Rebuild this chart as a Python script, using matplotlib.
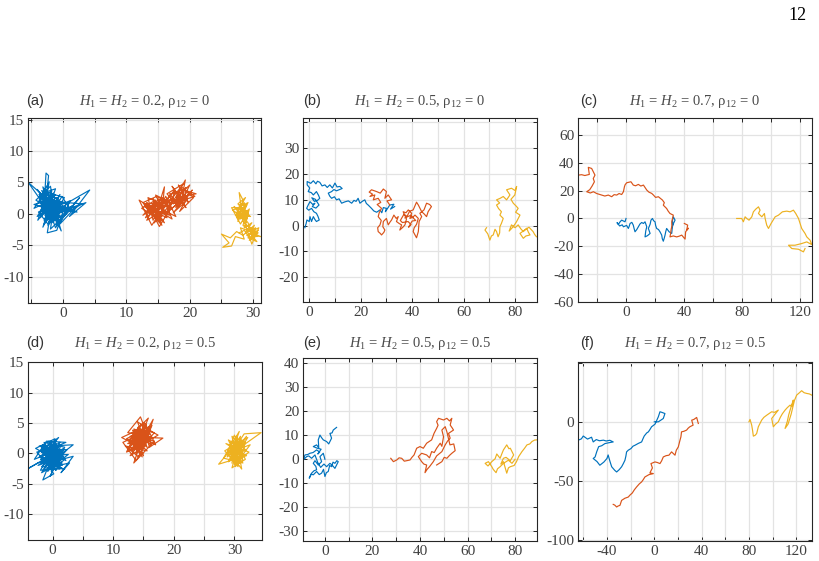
import matplotlib
matplotlib.use('Agg')
import matplotlib.pyplot as plt

plt.rcParams['font.family'] = 'Liberation Serif'
plt.rcParams['mathtext.fontset'] = 'custom'
plt.rcParams['mathtext.rm'] = 'Liberation Serif'
plt.rcParams['mathtext.it'] = 'Liberation Serif:italic'

# colours of the three walks
blue = '#0072BD'
orange = '#D95319'
yellow = '#EDB120'

# ---- (a) H = 0.2, rho = 0
a_blue = [(0,0),(-2.2,2.8),(-0.8,-1.2),(-3.6,1.8),(-1.4,0.6),(-4.1,3.9),(-2.1,1.2),(-3.2,-2.1),(-0.9,2.6),(-4.6,0.9),
          (-2.6,3.6),(-0.4,-0.6),(-3.1,0.2),(-2.2,5.1),(-3.6,2.6),(-1.1,1.1),(-5.5,5.0),(-3.0,1.4),(-2.7,6.5),(-2.3,6.1),
          (-2.6,3.1),(-4.0,-1.0),(-1.6,2.1),(0.6,0.1),(-2.0,-2.4),(-1.5,1.0),(1.1,2.1),(-0.5,-1.6),(2.0,1.1),(0.1,0.6),
          (3.6,1.8),(1.0,-0.4),(4.2,3.8),(0.4,1.6),(-1.0,-2.6),(-2.5,-3.0),(-2.0,0.1),(-3.8,3.1),(-1.2,4.0),(-3.0,-1.1),
          (-0.5,3.1),(-2.2,-0.8),(1.5,1.3),(-1.0,0.0),(-4.3,2.2),(-2.0,4.4),(-1.0,-1.8),(2.6,2.6),(0.0,-0.5),(-3.5,0.6),
          (-1.5,3.3),(-4.1,-0.4),(-0.2,1.9),(-2.8,2.1),(3.0,1.6),(-1.8,-1.2),(-3.2,4.3),(-0.8,0.3),(-4.6,1.5),(-2.0,2.3),
          (0.8,0.9),(-1.2,-2.2),(-3.0,3.0),(-0.3,-2.7),(-1.6,1.6),(-3.9,0.3),(-2.4,-1.6),(0.2,2.6),(-3.4,3.7),(-1.0,0.8),
          (2.2,0.3),(-0.6,1.3),(-2.9,-0.2),(-1.3,2.5),(-2.0,1.0),(-1.0,1.8),(-2.6,0.4),(-1.8,2.6),(-3.2,1.2),(-2.2,-0.4),
          (-3.0,2.4),(-1.4,0.0),(-2.4,1.8),(-3.6,0.2),(-2.8,3.0),(-1.6,1.2),(-0.6,2.2),(-2.0,-0.8),(-3.4,1.6),(-1.2,3.0),
          (-2.6,2.0),(-0.8,-0.4),(-2.2,0.6),(-3.8,2.2),(-1.6,-1.4),(-0.4,0.8),(-2.8,-0.8),(-1.8,3.6),(-3.4,2.8),(-1.0,1.4),
          (-2.4,-1.8),(0.2,1.2),(-1.6,0.4),(-3.0,0.8),(-2.0,3.2),(-0.6,-1.0),(-2.6,1.0),(-1.2,-0.6),(-3.2,3.4),(-0.8,2.4),
          (-2.2,-1.2),(0.6,1.6),(-1.4,2.0),(-3.6,-0.6),(-2.4,2.6),(-1.0,-0.2),(-2.8,1.6),(1.2,0.6),(-0.2,2.8),(-1.8,-0.2),
          (-3.0,-1.6),(-1.6,2.8),(-2.4,0.2)]
a_orange = [(15,0),(13.2,1.8),(15.8,-1.2),(12.4,0.9),(14.6,2.2),(13.0,-0.6),(16.2,1.5),(14.0,-1.8),(12.0,2.2),(14.8,0.4),
            (16.0,4.3),(15.6,0.2),(13.6,1.1),(15.2,-2.0),(17.0,1.0),(14.4,1.6),(12.6,-0.2),(16.6,2.4),(14.0,0.0),(17.6,3.6),
            (16.8,0.6),(18.8,2.2),(17.2,4.4),(19.4,1.0),(18.0,3.0),(19.3,5.4),(18.6,1.8),(20.0,4.6),(17.8,2.6),(21.0,3.2),
            (18.4,4.0),(19.6,2.2),(17.4,0.2),(20.4,3.8),(18.2,1.2),(16.4,3.2),(19.0,4.8),(17.0,2.2),(15.4,0.8),(17.8,-0.4),
            (16.2,2.8),(14.2,-1.0),(13.4,2.6),(15.8,1.4),(12.8,1.2),(16.4,-0.6),(14.6,3.0),(17.4,1.6),(19.8,3.0),(18.4,0.4),
            (20.6,2.6),(18.8,4.2),(16.8,1.2),(15.0,2.4),(13.8,0.4),(16.0,-1.4),(14.4,1.0),(15.6,-0.4),(13.6,0.2),(14.8,1.8),
            (13.2,-1.0),(16.0,0.6),(14.2,2.4),(15.4,-1.4),(13.0,1.6),(16.6,1.8),(14.6,-0.8),(15.8,2.6),(13.8,0.8),(16.8,-0.2),
            (15.0,1.2),(17.4,2.6),(16.2,0.0),(18.0,1.6),(16.8,3.2),(18.6,3.4),(17.8,1.0),(19.2,2.8),(18.2,4.6),(19.8,1.8),
            (18.8,3.6),(20.2,3.2),(17.6,2.0),(19.4,4.2),(18.0,2.4),(16.4,1.2),(17.2,-0.8),(15.2,0.4),(14.0,1.4),(15.6,-1.8),
            (13.4,0.6),(12.6,1.8),(14.8,2.8),(16.2,2.0),(17.6,3.8),(19.0,2.2),(20.8,2.8),(19.6,3.6),(18.4,2.0),(17.0,1.6),
            (15.8,0.2),(14.4,-1.4)]
a_yellow = [(28,0),(27.0,1.2),(28.6,-0.8),(26.8,0.6),(29.2,1.8),(27.6,-1.2),(28.4,2.2),(27.8,3.4),(28.2,0.4),(29.6,-0.4),
            (27.2,-0.2),(28.8,1.0),(26.6,1.0),(28.0,-1.6),(29.4,0.8),(28.6,-2.2),(29.8,-1.4),(28.8,-3.0),(30.4,-2.2),(29.4,-4.2),
            (30.8,-3.0),(29.0,-2.6),(31.2,-3.6),(29.8,-3.4),(30.6,-4.4),(29.2,-3.8),(30.2,-1.8),(28.4,-3.4),(27.4,-2.8),(26.4,-3.8),
            (25.0,-3.2),(26.2,-4.6),(25.2,-5.3),(26.6,-5.1),(27.2,-3.6),(28.6,-4.0),(28.0,-2.2),(29.6,-2.8),(30.9,-2.2),(29.8,-4.8),
            (28.8,-1.8),(29.2,0.2),(27.6,1.6),(28.8,2.6),(27.4,0.2),(29.0,-0.8),(28.2,0.8),(27.4,-0.6),(28.8,0.2),(27.8,1.4),
            (29.0,1.4),(28.0,-0.8),(29.4,-0.2),(27.6,0.8),(28.6,1.8),(28.4,-1.2),(29.2,-2.0),(30.0,-2.8),(29.4,-3.2),(30.6,-3.6),
            (29.6,-2.2),(30.2,-4.0),(29.0,-3.4),(30.8,-2.6),(30.0,-3.6),(29.2,-1.4),(28.2,-0.2),(28.8,1.4),(27.8,0.0),(29.2,0.6),
            (28.4,-1.8),(29.8,-3.0),(30.4,-2.4),(29.6,-4.0),(28.6,-2.6),(27.8,-3.0)]

# ---- (b) H = 0.5, rho = 0
b_blue = [(-1.7,-0.8),(-1.2,0.8),(-0.9,2.2),(0.0,1.6),(0.3,3.5),(0.9,1.6),(1.6,3.5),(2.2,2.4),(2.8,1.6),(3.9,2.2),
          (3.4,3.6),(2.8,4.8),(1.8,5.4),(0.9,6.7),(-0.2,6.0),(-1.0,6.7),(-0.4,8.0),(0.3,9.3),(1.4,8.2),(2.2,8.7),
          (1.2,7.4),(2.6,6.8),(3.8,8.0),(2.4,10.2),(1.0,10.8),(2.0,9.4),
          (3.2,9.8),(4.1,10.6),(3.6,11.8),(2.8,13.2),(1.6,11.9),(0.8,12.8),(-0.4,13.2),(0.2,14.6),(-0.8,15.8),(-0.8,17.1),
          (0.6,16.4),(1.6,17.4),(2.6,16.2),(3.2,17.2),(4.1,16.8),(5.0,15.4),(6.1,15.8),(7.0,14.8),(8.0,15.8),(9.0,14.6),
          (10.0,16.5),(10.8,15.0),(11.9,15.2),(12.8,14.4),(10.6,13.5),(9.6,14.0),(8.7,13.2),(7.4,12.6),(8.0,11.4),(8.7,10.6),
          (9.8,11.2),(10.6,10.0),(11.6,10.4),(12.6,8.7),(13.8,9.2),(15.2,9.6),(16.5,8.7),(17.4,9.8),(18.2,9.4),(19.0,10.6),
          (19.7,8.7),(20.6,9.4),(21.6,10.0),(22.2,8.6),(22.9,8.0),(24.2,6.7),(25.1,5.7),(26.2,5.2),(27.5,6.1),(28.2,5.0),
          (28.8,7.0),(30.0,6.7),(29.6,5.4),(31.3,8.0),(32.9,8.3),(31.6,6.4),(33.2,7.4)]
b_orange = [(31.3,8.0),(30.2,9.6),(32.0,10.0),(30.7,11.9),(29.4,10.6),(30.0,13.2),(28.8,14.2),(27.6,12.6),(26.2,13.2),(24.2,13.9),
            (23.3,13.0),(24.6,12.2),(23.6,11.3),(25.5,11.9),(24.9,10.0),(26.8,10.6),(27.8,9.0),(26.4,8.2),(28.1,6.7),(27.2,5.0),
            (26.8,3.5),(28.0,2.0),(27.5,0.3),(26.6,-0.8),(26.8,-2.3),(27.6,-3.0),(28.1,-3.6),(29.0,-2.6),(29.4,-1.7),(28.6,-0.4),
            (28.8,1.6),(30.0,2.8),(30.7,0.3),(31.4,1.4),(32.0,2.2),(32.9,4.1),(33.8,2.8),(34.6,3.5),(33.9,1.6),(35.0,0.8),
            (35.9,0.3),(35.2,-1.7),(36.4,-0.6),(37.2,0.3),(37.8,2.6),(36.5,5.4),(37.6,5.0),(38.5,6.1),(39.8,4.8),(39.1,2.8),
            (40.2,3.2),(41.1,4.1),(42.4,2.8),(41.7,0.5),(40.8,-0.8),(40.4,-2.3),(41.0,-3.4),(41.7,-4.7),(42.4,-2.3),(42.7,1.6),
            (43.7,3.5),(43.0,4.8),(44.6,6.1),(45.6,8.7),(46.8,8.2),(47.5,7.4),(46.2,5.4),(45.6,3.5),(44.6,4.6),(43.7,5.4),
            (42.4,8.0),(41.7,9.1),(40.4,6.1),(39.0,5.6),(38.0,3.6),(36.8,4.4),(35.4,2.0),(36.2,1.2),(38.4,1.6),(39.6,0.4),
            (38.6,-0.6),(40.0,1.8),(41.4,2.0),(39.4,4.0),(37.2,3.0)]
b_yellow = [(68.9,-0.8),(68.3,-1.7),(69.4,-3.2),(70.2,-5.6),(70.8,-4.0),(71.5,-3.6),(72.2,-1.4),(72.8,-2.3),(73.4,-4.3),(74.0,-2.8),
            (74.1,-0.4),(74.7,0.9),(75.4,2.8),(74.1,4.1),(74.7,5.4),(73.6,6.6),(72.8,8.0),(74.0,8.8),(72.8,10.0),(74.2,10.6),
            (75.4,11.3),(76.7,10.0),(78.0,11.9),(76.7,13.9),(78.6,14.5),(80.0,13.6),(80.6,15.2),(79.9,11.9),(78.4,10.2),(79.3,8.7),
            (80.4,7.6),(81.2,6.7),(80.2,5.2),(81.9,4.1),(80.6,1.6),(79.3,-0.4),(77.7,-2.1),(78.6,0.3),(80.0,-0.8),(81.2,0.3),
            (82.2,-1.2),(83.2,-2.3),(84.5,-1.0),(85.2,-2.6),(85.8,-3.6),(84.2,-4.0),(83.2,-4.9),(81.9,-3.0),(83.6,-1.8),(85.4,-0.6),
            (87.0,-2.3),(87.6,-3.4),(88.3,-4.3)]

# ---- (c) H = 0.7, rho = 0
c_blue = [(0,0),(-0.7,-2.4),(-3.0,-1.2),(-4.1,-2.4),(-5.3,-4.3),(-6.2,-3.0),(-4.4,-5.4),(-2.6,-4.6),(-1.8,-6.0),(0.4,-5.0),
          (1.6,-7.2),(2.2,-5.6),(2.8,-3.6),(4.0,-2.8),(5.0,-4.8),(5.6,-7.4),(6.2,-9.6),(7.4,-8.0),(8.5,-6.0),(9.6,-4.0),
          (10.8,-2.9),(12.0,-3.6),(13.1,-2.4),(14.3,-6.0),(13.6,-9.0),(13.1,-13.3),(14.8,-12.4),(16.6,-10.8),(15.4,-7.2),(16.6,-4.2),
          (17.2,-1.2),(18.2,0.0),(19.0,-1.6),(20.0,-2.4),(20.4,-5.0),(21.1,-7.2),(22.4,-8.0),(23.4,-9.6),(24.6,-12.0),(25.0,-14.6),
          (25.7,-16.4),(26.4,-14.0),(26.9,-12.0),(27.4,-9.4),(28.0,-7.2),(29.7,-9.6),(31.5,-10.8),(31.8,-7.6),(32.2,-4.8),(32.0,-1.6),
          (32.6,1.2),(33.8,-1.2),(32.8,-3.4),(31.4,-6.8)]
c_orange = [(40.2,-3.6),(42.5,-4.8),(41.8,-8.4),(43.0,-7.0),(41.1,-9.6),(40.7,-14.9),(38.4,-12.0),(36.6,-12.8),(34.9,-13.3),(32.6,-12.6),
            (30.3,-13.3),(30.8,-10.6),(31.0,-8.4),(31.6,-5.6),(31.5,-2.4),(32.6,2.4),(30.3,3.6),(29.0,5.4),(28.0,7.2),(25.7,9.6),
            (26.4,11.4),(25.1,13.3),(22.3,15.7),(20.4,15.2),(18.9,16.9),(17.7,18.1),(15.8,19.0),(14.3,20.5),(12.0,24.1),(10.2,23.4),
            (8.5,24.6),(6.6,23.6),(5.0,24.1),(3.4,26.5),(0.5,25.8),(-0.6,24.4),(-1.1,22.9),(-1.8,19.3),(-3.0,17.3),(-4.8,18.0),
            (-6.4,16.9),(-8.2,17.2),(-9.9,15.7),(-12.2,16.9),(-14.6,16.2),(-16.8,16.9),(-20.2,18.0),(-22.5,19.3),(-24.6,18.4),(-27.1,19.3),
            (-25.0,20.8),(-23.4,23.4),(-21.8,26.5),(-22.6,28.8),(-21.4,31.3),(-23.7,36.1),(-26.0,36.9),(-25.3,31.8),(-28.4,31.0),(-30.6,31.6),
            (-32.9,31.3)]
c_yellow = [(76.3,0.0),(79.8,0.0),(80.9,-2.4),(82.1,1.2),(83.2,0.0),(84.8,-1.2),(86.7,1.2),(87.8,4.8),(89.4,6.7),(91.3,8.4),
            (92.4,6.0),(91.3,3.6),(93.6,1.2),(95.4,3.6),(95.9,0.0),(97.0,-4.8),(98.2,-7.2),(100.0,-3.6),(102.8,1.2),(105.1,2.4),
            (107.8,4.8),(110.8,5.3),(113.1,4.8),(115.4,6.0),(117.0,3.6),(118.9,0.0),(120.0,-3.6),(121.1,-7.2),(123.4,-10.8),(124.6,-13.3),
            (126.9,-15.7),(128.0,-18.8),(124.6,-16.9),(121.1,-18.1),(116.5,-19.3),(112.0,-19.3),(114.3,-21.7),(118.9,-22.2),(122.3,-24.1),(123.4,-21.7)]

# ---- (d) H = 0.2, rho = 0.5
d_blue = [(0,0),(-1.6,1.4),(0.8,-2.2),(-2.2,-0.6),(1.2,1.8),(-0.8,-3.0),(2.4,0.6),(-1.2,0.4),(1.0,-1.2),(-2.8,0.8),
          (0.4,2.4),(-0.6,-1.8),(2.0,-2.6),(-1.8,-2.2),(1.6,0.2),(-0.4,1.2),(3.4,1.4),(0.6,-0.8),(-2.4,-1.6),(-4.0,-2.5),
          (-1.4,-1.0),(0.2,-3.4),(-1.6,-4.4),(-0.8,-2.4),(2.8,-1.6),(1.4,-3.2),(3.4,-0.5),(0.0,-1.4),(-2.0,0.4),(1.0,2.6),
          (-0.6,0.6),(2.2,1.8),(-1.0,2.0),(-3.0,-1.0),(0.4,0.4),(-1.8,-3.2),(1.8,-1.2),(-0.2,-2.6),(-2.6,0.2),(0.9,1.0),
          (-1.2,-0.4),(2.6,-0.2),(0.2,-2.0),(-1.4,1.8),(1.4,-2.4),(-2.0,-2.8),(0.6,1.6),(-0.8,-0.8),(1.8,0.8),(-0.4,-3.8),
          (1.2,-0.2),(-2.2,1.2),(0.0,0.8),(0.4,-0.6),(-1.0,0.6),(0.8,0.8),(-0.6,-1.2),(1.4,0.4),(-1.6,-0.2),(0.2,1.4),
          (-0.4,-2.2),(1.6,-1.6),(-1.2,-1.6),(0.6,-2.8),(-2.0,-1.0),(1.0,0.0),(-0.2,0.2),(-1.8,1.0),(0.8,-1.8),(2.0,1.0),
          (-0.8,1.6),(1.2,-2.6),(-1.4,-2.6),(0.0,-0.4),(-2.4,-2.0),(1.8,-0.6),(-0.6,2.0),(0.4,-1.4),(-1.2,0.2),(2.2,-1.2),
          (0.2,1.8),(-1.6,-1.6),(1.4,1.4),(-0.2,-3.0),(0.8,0.2),(-2.2,0.4),(1.0,-1.0),(-1.0,-0.8),(0.6,2.2),(-0.4,-0.2),
          (1.6,-2.0),(-1.8,-0.6),(0.2,0.6)]
d_orange = [(13.0,0.6),(14.6,3.2),(11.6,1.8),(13.8,-1.2),(15.4,1.6),(12.2,0.2),(14.2,4.4),(13.2,2.0),(16.2,3.8),(12.8,-0.4),
            (14.8,0.8),(11.4,2.6),(13.6,3.6),(15.8,5.8),(14.4,2.4),(16.8,2.0),(13.4,-1.6),(15.0,3.0),(12.4,3.4),(14.5,6.0),
            (15.2,4.2),(17.4,3.0),(14.0,1.0),(16.6,5.6),(15.6,2.6),(18.2,2.5),(16.0,1.0),(14.8,4.8),(13.0,2.8),(15.6,0.4),
            (12.0,1.2),(14.2,-0.6),(16.4,4.6),(13.6,1.4),(15.2,5.0),(17.0,1.4),(14.0,3.0),(12.6,2.2),(15.0,-0.4),(13.4,4.0),
            (16.0,3.2),(14.6,1.8),(13.6,2.2),(14.8,1.0),(12.8,2.8),(15.4,3.6),(13.2,0.4),(14.4,4.0),(15.8,1.8),(12.4,1.6),
            (14.0,2.6),(16.0,4.4),(13.4,3.2),(15.0,1.6),(12.6,0.6),(14.6,4.8),(15.6,3.0),(13.8,0.0),(14.2,3.4),(16.4,2.6),
            (13.0,1.4),(15.2,2.2),(14.0,5.2),(15.8,4.0),(12.8,2.0),(14.8,-0.6),(13.6,1.8),(15.4,4.8),(16.2,1.4),(13.2,3.8),
            (14.4,1.4),(12.2,2.4),(15.0,3.8),(16.8,3.4),(14.2,0.4),(13.4,2.6),(15.6,1.0),(14.6,3.6)]
d_yellow = [(30,0),(31.2,2.2),(29.0,-1.4),(31.8,0.6),(29.6,2.8),(30.6,-2.2),(28.4,0.4),(32.2,2.6),(30.2,-0.6),(29.2,1.4),
            (31.4,-1.6),(28.2,-0.8),(30.8,3.6),(29.8,0.8),(32.0,-0.4),(27.4,-1.8),(30.4,1.8),(31.2,-2.6),(29.4,-0.2),(31.6,3.2),
            (34.4,3.4),(31.0,1.0),(29.0,2.2),(30.6,-1.2),(32.6,1.4),(28.8,0.0),(30.0,3.0),(31.8,-1.0),(29.6,-2.4),(30.4,0.4),
            (28.6,1.6),(32.4,0.2),(30.0,-1.8),(31.0,2.8),(29.4,0.6),(30.8,-0.2),(30.2,1.2),(29.4,-0.8),(31.0,0.2),(29.8,2.0),
            (30.8,-1.6),(29.2,0.4),(31.4,1.4),(30.0,-1.2),(29.6,1.2),(31.2,-0.6),(30.4,2.4),(28.8,-0.6),(31.6,2.0),(30.0,0.2),
            (29.4,1.8),(30.6,-2.0),(31.8,1.8),(29.8,-0.4),(30.6,1.6),(29.0,0.8),(31.2,0.4),(30.2,-2.2),(29.6,0.0),(32.0,2.8),
            (30.8,1.0),(29.2,-1.2),(30.4,2.8),(31.4,-1.2),(30.0,1.4),(29.6,-1.6)]

# ---- (e) H = 0.5, rho = 0.5
e_blue = [(0,0),(-0.7,2.5),(-2.1,1.1),(-1.4,-1.0),(-2.8,-2.4),(-4.2,-0.6),(-4.9,-1.7),(-3.8,-3.0),(-3.5,-4.4),(-4.6,-4.8),
          (-5.6,-5.8),(-6.6,-7.9),(-5.8,-6.2),(-4.9,-6.5),(-3.5,-5.1),(-2.4,-6.4),(-1.4,-5.8),(-0.6,-4.2),(0.0,-7.2),(0.6,-5.6),
          (1.4,-5.1),(2.0,-2.6),(2.8,-3.1),(3.4,-1.2),(4.2,-1.7),(5.0,-0.6),(5.6,-1.0),(4.2,-3.8),(3.0,-2.4),(2.1,-1.7),
          (0.7,-3.1),(-0.4,-2.0),(-1.8,-3.4),(-3.0,-1.4),(-4.2,1.8),(-5.6,0.4),(-6.8,1.4),(-7.7,1.1),(-9.1,-0.3),(-8.4,1.8),
          (-7.2,2.0),(-6.3,2.5),(-5.0,2.8),(-3.5,3.9),(-2.2,3.0),(-3.0,2.2),(-1.6,4.2),(-3.2,4.6),
          (-4.9,5.3),(-3.5,6.0),(-2.6,4.8),(-2.8,8.1),(-2.1,10.1),(-1.4,9.0),
          (-0.7,8.1),(0.7,7.4),(1.6,6.4),(2.8,8.8),(2.1,10.8),(3.0,11.0),(3.5,12.2),(4.9,13.3)]
e_orange = [(27.7,0.4),(28.8,-1.0),(30.2,-0.3),(31.2,0.6),(32.3,0.4),(33.4,-0.8),(34.4,-0.6),(35.8,-0.3),(36.6,0.8),(37.5,1.8),
            (38.6,4.6),(40.0,5.3),(41.4,4.6),(42.8,6.7),(44.9,8.1),(45.9,10.8),(47.0,12.9),(47.6,14.2),(47.0,15.7),(47.8,17.1),
            (49.9,16.4),(51.3,17.1),(52.4,16.0),(53.4,17.1),(52.7,14.3),(53.6,13.0),(54.1,12.2),(52.0,10.8),(52.7,8.8),(51.6,7.6),
            (50.6,6.0),(49.2,3.2),(47.0,1.4),(45.6,-1.0),(44.0,-3.1),(43.0,-4.2),(42.1,-5.6),(42.8,-2.4),(41.6,-2.0),(40.7,-1.0),
            (39.3,1.1),(40.7,2.5),(42.8,1.8),(44.0,0.6),(44.9,3.2),(46.0,2.8),(47.0,4.6),(48.5,6.7),(49.2,5.4),(49.9,9.4),
            (49.2,12.2),(50.6,13.6),(51.3,11.5),(52.6,6.0),(54.2,6.4),(54.8,3.6),(53.4,2.5),(52.4,1.6),(51.3,0.4),(50.2,0.8),
            (49.2,-1.0),(47.0,-2.4)]
e_yellow = [(80.0,0.0),(78.7,-1.7),(77.2,-0.4),(75.1,-1.7),(73.7,-3.1),(72.6,-4.0),(72.0,-5.6),(70.8,-4.2),(70.2,-3.1),(68.8,-1.0),
            (67.4,-1.7),(68.6,-2.8),(70.2,-1.0),(71.6,0.2),(72.3,2.2),(73.7,0.4),(74.4,2.2),(75.1,3.9),(76.5,6.0),(77.4,4.4),
            (78.0,4.6),(79.4,1.8),(78.0,-0.6),(76.2,0.8),(75.1,0.4),(74.0,-2.0),(75.1,-1.0),(76.5,-5.8),(77.2,-3.6),(78.0,-3.1),
            (79.6,-2.6),(80.6,-1.0),(81.5,1.1),(82.9,3.2),(84.0,4.6),(85.0,6.0),(86.2,6.4),(87.1,7.4),(88.2,8.0),(89.2,8.1)]

# ---- (f) H = 0.7, rho = 0.5
f_blue = [(0,0),(3.4,0.0),(7.6,2.8),(9.0,7.0),(6.4,8.0),(4.8,8.5),(3.4,4.2),(0.6,-2.0),(-2.3,-4.2),(-3.6,-6.4),
          (-5.0,-8.5),(-6.4,-9.4),(-8.5,-12.0),(-9.6,-14.4),(-10.7,-17.0),(-13.4,-18.2),(-16.3,-19.8),(-18.0,-20.6),(-19.7,-22.6),(-22.0,-24.0),
          (-23.4,-25.4),(-24.0,-29.0),(-24.8,-32.5),(-26.2,-35.4),(-27.6,-38.0),(-29.6,-40.4),(-31.8,-42.4),(-33.4,-41.0),(-36.0,-38.0),(-37.4,-33.6),
          (-39.0,-28.0),(-40.0,-31.0),(-42.6,-34.0),(-46.0,-36.7),(-48.4,-33.6),(-51.6,-31.0),(-50.0,-29.7),(-48.6,-25.2),(-47.0,-21.0),(-44.4,-20.2),
          (-41.7,-18.4),(-38.0,-17.6),(-34.7,-17.0),(-37.6,-15.6),(-40.6,-16.2),(-43.0,-15.5),(-46.4,-16.0),(-49.0,-15.0),(-51.6,-17.0),(-53.0,-13.0),
          (-56.4,-14.6),(-60.0,-12.0),(-61.6,-14.4),(-64.2,-15.5)]
f_orange = [(37.2,-1.4),(35.8,3.7),(33.4,2.0),(31.6,1.4),(32.8,-2.8),(30.0,-4.2),(28.6,-5.4),(27.3,-7.0),(25.0,-8.0),(23.0,-8.5),
            (22.5,-12.7),(21.6,-16.0),(20.3,-21.2),(18.6,-24.0),(17.5,-28.2),(14.6,-25.4),(12.4,-28.2),(10.0,-28.6),(7.6,-29.7),(6.2,-33.0),
            (4.8,-35.3),(2.6,-34.4),(0.6,-33.9),(-2.8,-35.3),(-1.6,-39.0),(-3.7,-43.2),(-0.8,-43.8),(-4.4,-44.6),(-7.9,-46.6),(-9.4,-49.0),
            (-10.7,-50.8),(-12.6,-52.4),(-14.9,-55.0),(-16.8,-57.4),(-18.6,-60.2),(-20.4,-61.8),(-22.0,-63.6),(-24.8,-64.6),(-27.6,-66.4),(-28.4,-68.8),
            (-29.0,-70.6),(-30.6,-71.2),(-31.8,-72.0),(-33.4,-70.4),(-34.7,-69.8)]
f_yellow = [(80.0,0.0),(80.9,2.0),(82.3,-2.8),(83.0,-7.0),(83.7,-12.1),(85.2,-11.4),(86.5,-9.9),(87.9,-4.2),(89.2,-1.6),(90.7,1.4),
            (92.6,3.8),(95.0,5.6),(97.0,7.0),(99.2,8.5),(101.6,8.0),(104.8,9.9),(102.0,6.4),(99.2,2.8),(100.6,-4.2),(102.4,-2.0),
            (104.8,0.0),(106.4,3.6),(108.2,6.8),(110.5,9.9),(112.4,12.0),(114.7,14.1),(116.2,13.0),(117.5,18.4),(116.0,14.0),(113.6,6.0),
            (112.4,0.4),(110.5,-5.6),(113.0,-2.0),(115.6,6.4),(118.4,18.0),(120.3,22.6),(122.4,24.4),(124.5,26.3),(126.6,24.6),(128.8,24.0),
            (131.0,23.6),(133.0,22.6)]

titles = ['$H_1$ = $H_2$ = 0.2, ρ$_{12}$ = 0', '$H_1$ = $H_2$ = 0.5, ρ$_{12}$ = 0', '$H_1$ = $H_2$ = 0.7, ρ$_{12}$ = 0',
          '$H_1$ = $H_2$ = 0.2, ρ$_{12}$ = 0.5', '$H_1$ = $H_2$ = 0.5, ρ$_{12}$ = 0.5', '$H_1$ = $H_2$ = 0.7, ρ$_{12}$ = 0.5']
letters = ['(a)', '(b)', '(c)', '(d)', '(e)', '(f)']

W, H = 819, 561
fig = plt.figure(figsize=(8.19, 5.61), dpi=100)

def rect(l, r, t, b):
    return [l / W, 1 - b / H, (r - l) / W, (b - t) / H]

panels = [
    # box (px), xlim, ylim, xticks, x labelled, yticks, y labelled, paths
    (rect(28.3, 260.7, 118.3, 303.3), (-5.5, 31.2), (-14.2, 15.2), range(-5, 31, 5), [0, 10, 20, 30],
     range(-10, 16, 5), [-10, -5, 0, 5, 10, 15], (a_blue, a_orange, a_yellow)),
    (rect(303.3, 536.7, 118.3, 302.3), (-2.3, 88.4), (-29.7, 41.6), range(0, 81, 10), [0, 20, 40, 60, 80],
     range(-20, 41, 10), [-20, -10, 0, 10, 20, 30], (b_blue, b_orange, b_yellow)),
    (rect(578.3, 811.7, 118.3, 302.3), (-32.9, 128), (-60.5, 72.3), range(-20, 121, 20), [0, 40, 80, 120],
     range(-60, 61, 20), [-60, -40, -20, 0, 20, 40, 60], (c_blue, c_orange, c_yellow)),
    (rect(28.3, 261.7, 361.7, 540.0), (-4.0, 34.5), (-14.3, 15.1), range(0, 31, 5), [0, 10, 20, 30],
     range(-10, 16, 5), [-10, -5, 0, 5, 10, 15], (d_blue, d_orange, d_yellow)),
    (rect(303.3, 536.7, 357.7, 540.7), (-9.1, 89.1), (-34.0, 42.4), range(0, 81, 10), [0, 20, 40, 60, 80],
     range(-30, 41, 10), [-30, -20, -10, 0, 10, 20, 30, 40], (e_blue, e_orange, e_yellow)),
    (rect(578.3, 811.7, 361.5, 540.7), (-64.2, 133), (-100.5, 51), range(-60, 121, 20), [-40, 0, 40, 80, 120],
     range(-100, 51, 50), [-100, -50, 0], (f_blue, f_orange, f_yellow)),
]

for i, (pos, xl, yl, xt, xlab, yt, ylab, paths) in enumerate(panels):
    ax = fig.add_axes(pos)
    for pts, col in zip(paths, [blue, orange, yellow]):
        ax.plot([p[0] for p in pts], [p[1] for p in pts], color=col, lw=0.85)
    ax.set_xlim(xl)
    ax.set_ylim(yl)
    ax.set_xticks(list(xt))
    ax.set_xticklabels([str(t) if t in xlab else '' for t in xt])
    ax.set_yticks(list(yt))
    ax.set_yticklabels([str(t) if t in ylab else '' for t in yt])
    ax.grid(True, color='#e3e3e3', lw=0.9)
    ax.set_axisbelow(True)
    ax.tick_params(direction='in', length=3, width=0.7, top=True, right=True, colors='#262626',
                   labelsize=11, labelcolor='#404040', pad=3)
    for s in ax.spines.values():
        s.set_color('#262626')
        s.set_linewidth(0.8)
    # title + panel letter
    cx = (pos[0] + pos[2] / 2)
    ty = 101 if i < 3 else 343
    fig.text(cx, 1 - ty / H, titles[i], ha='center', va='center', fontsize=10.5, color='#4a4a4a')
    fig.text((26 if i % 3 == 0 else (303 if i % 3 == 1 else 580)) / W, 1 - ty / H, letters[i],
             ha='left', va='center', fontsize=10.5, color='#333333', family='Liberation Sans')

fig.text(797 / W, 1 - 15 / H, '12', ha='center', va='center', fontsize=13, color='black')

fig.savefig('out.png', dpi=100)
